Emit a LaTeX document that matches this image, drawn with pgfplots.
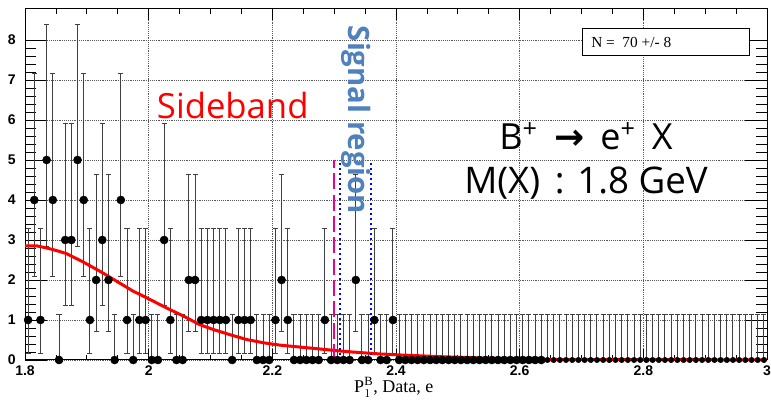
\documentclass[border=0pt]{standalone}
\usepackage{pgfplots}
\pgfplotsset{compat=1.18}
\usepackage{pgfplotstable}
\usepackage{fontspec}
\setmainfont{Liberation Serif}
\newfontfamily\lsans{Liberation Sans}
\newfontfamily\ppt{Open Sans}
\newfontfamily\symf{DejaVu Sans}
\definecolor{sigblue}{HTML}{4F81BD}

% bin centre, entries, poisson errors (+/-)
\pgfplotstableread{
x n ep em
1.805 1 2.298 0.827
1.815 4 3.162 1.914
1.825 1 2.298 0.827
1.835 5 3.382 2.159
1.845 4 3.162 1.914
1.855 0 1.148 0
1.865 3 2.918 1.633
1.875 3 2.918 1.633
1.885 5 3.382 2.159
1.895 4 3.162 1.914
1.905 1 2.298 0.827
1.915 2 2.638 1.292
1.925 3 2.918 1.633
1.935 2 2.638 1.292
1.945 0 1.148 0
1.955 4 3.162 1.914
1.965 1 2.298 0.827
1.975 0 1.148 0
1.985 1 2.298 0.827
1.995 1 2.298 0.827
2.005 0 1.148 0
2.015 0 1.148 0
2.025 3 2.918 1.633
2.035 1 2.298 0.827
2.045 0 1.148 0
2.055 0 1.148 0
2.065 2 2.638 1.292
2.075 2 2.638 1.292
2.085 1 2.298 0.827
2.095 1 2.298 0.827
2.105 1 2.298 0.827
2.115 1 2.298 0.827
2.125 1 2.298 0.827
2.135 0 1.148 0
2.145 1 2.298 0.827
2.155 1 2.298 0.827
2.165 1 2.298 0.827
2.175 0 1.148 0
2.185 0 1.148 0
2.195 0 1.148 0
2.205 1 2.298 0.827
2.215 2 2.638 1.292
2.225 1 2.298 0.827
2.235 0 1.148 0
2.245 0 1.148 0
2.255 0 1.148 0
2.265 0 1.148 0
2.275 0 1.148 0
2.285 1 2.298 0.827
2.295 0 1.148 0
2.305 0 1.148 0
2.315 0 1.148 0
2.325 0 1.148 0
2.335 2 2.638 1.292
2.345 0 1.148 0
2.355 0 1.148 0
2.365 1 2.298 0.827
2.375 0 1.148 0
2.385 0 1.148 0
2.395 1 2.298 0.827
2.405 0 1.148 0
2.415 0 1.148 0
2.425 0 1.148 0
2.435 0 1.148 0
2.445 0 1.148 0
2.455 0 1.148 0
2.465 0 1.148 0
2.475 0 1.148 0
2.485 0 1.148 0
2.495 0 1.148 0
2.505 0 1.148 0
2.515 0 1.148 0
2.525 0 1.148 0
2.535 0 1.148 0
2.545 0 1.148 0
2.555 0 1.148 0
2.565 0 1.148 0
2.575 0 1.148 0
2.585 0 1.148 0
2.595 0 1.148 0
2.605 0 1.148 0
2.615 0 1.148 0
2.625 0 1.148 0
2.635 0 1.148 0
2.645 0 1.148 0
2.655 0 1.148 0
2.665 0 1.148 0
2.675 0 1.148 0
2.685 0 1.148 0
2.695 0 1.148 0
2.705 0 1.148 0
2.715 0 1.148 0
2.725 0 1.148 0
2.735 0 1.148 0
2.745 0 1.148 0
2.755 0 1.148 0
2.765 0 1.148 0
2.775 0 1.148 0
2.785 0 1.148 0
2.795 0 1.148 0
2.805 0 1.148 0
2.815 0 1.148 0
2.825 0 1.148 0
2.835 0 1.148 0
2.845 0 1.148 0
2.855 0 1.148 0
2.865 0 1.148 0
2.875 0 1.148 0
2.885 0 1.148 0
2.895 0 1.148 0
2.905 0 1.148 0
2.915 0 1.148 0
2.925 0 1.148 0
2.935 0 1.148 0
2.945 0 1.148 0
2.955 0 1.148 0
2.965 0 1.148 0
2.975 0 1.148 0
2.985 0 1.148 0
2.995 0 1.148 0
}\hist

\begin{document}
\begin{tikzpicture}
\begin{axis}[scale only axis,width=556.5pt,height=263.25pt,
 xmin=1.8,xmax=3,ymin=0,ymax=8.775,
 clip=false,axis line style={black,line width=0.75pt},
 xtick={1.8,2,2.2,2.4,2.6,2.8,3},xticklabels={1.8,2,2.2,2.4,2.6,2.8,3},
 ytick={0,...,8},yticklabels={0,1,2,3,4,5,6,7,8},
 minor x tick num=3,minor y tick num=4,
 tick align=inside,
 xtick style={black,line width=0.6pt,/pgfplots/major tick length=7.9pt,/pgfplots/minor tick length=3.9pt},
 ytick style={black,line width=0.6pt,/pgfplots/major tick length=16.5pt,/pgfplots/minor tick length=8.25pt},
 tick label style={font=\lsans\bfseries\fontsize{10.5}{12}\selectfont},
 yticklabel style={xshift=-3.5pt},
 xticklabel style={yshift=-0.5pt},
 grid=major,grid style={densely dotted,black!65,line width=0.5pt},
 xlabel={P$_1^{\mathrm{B}}$, Data, e},
 xlabel style={font=\fontsize{13.5}{15}\selectfont,at={(rel axis cs:0.497,0)},anchor=base,yshift=-24.2pt},
]
\addplot[only marks,mark=none,error bars/.cd,y dir=both,y explicit,
 error mark=-,
 error bar style={black!75,line width=0.75pt},
 error mark options={rotate=90,black!75,line width=0.75pt,mark size=1.9pt}]
 table[x=x,y=n,y error plus=ep,y error minus=em]{\hist};
\addplot[only marks,mark=*,mark size=3pt,black,restrict x to domain=1.8:2.64]
 table[x=x,y=n]{\hist};
\addplot[red,line width=2.25pt] coordinates {
 (1.8,2.85) (1.82,2.85) (1.835,2.80) (1.85,2.74) (1.867,2.66) (1.894,2.45)
 (1.921,2.22) (1.948,1.97) (1.975,1.72) (2.0,1.53) (2.029,1.30) (2.056,1.10)
 (2.083,0.88) (2.105,0.76) (2.132,0.63) (2.159,0.51) (2.186,0.43) (2.213,0.37)
 (2.24,0.33) (2.267,0.29) (2.32,0.21) (2.375,0.15) (2.408,0.125) (2.478,0.08)
 (2.559,0.04) (2.635,0.01) (3.0,0.005)};
\addplot[magenta,line width=1.5pt,dash pattern=on 12pt off 4pt] coordinates {(2.30,0) (2.30,5)};
\addplot[blue,line width=1.5pt,dash pattern=on 1.5pt off 2.25pt] coordinates {(2.31,0) (2.31,5)};
\addplot[blue,line width=1.5pt,dash pattern=on 1.5pt off 2.25pt] coordinates {(2.36,0) (2.36,5)};

\node[anchor=base west,text=red,inner sep=0,font=\ppt\fontsize{26}{30}\selectfont] at (axis cs:2.013,6.04) {Sideband};
\node[rotate=-90,text=sigblue,inner sep=0,font=\ppt\bfseries\fontsize{22}{26}\selectfont] at (axis cs:2.336,6.0) {Signal region};
\node[anchor=base,inner sep=0,font=\ppt\fontsize{27}{30}\selectfont] at (axis cs:2.7073,5.25) {B\textsuperscript{+}\hspace{0.45em}{\symf\bfseries →}\hspace{0.45em}e\textsuperscript{+}\hspace{0.45em}X};
\node[anchor=base,inner sep=0,font=\ppt\fontsize{27.5}{30}\selectfont] at (axis cs:2.7073,4.17) {M(X)\hspace{0.4em}:\hspace{0.35em}1.8 GeV};
\draw[black,line width=0.75pt,fill=white] (axis cs:2.7008,7.6) rectangle (axis cs:2.971,8.275);
\node[anchor=west,inner sep=0,font=\fontsize{11.5}{13}\selectfont] at (axis cs:2.7154,7.93) {N =\ \ 70 +/- 8};
\end{axis}
\pgfresetboundingbox
\path[use as bounding box] (-18.75pt,-31.5pt) rectangle (559.5pt,270pt);
\end{tikzpicture}
\end{document}
